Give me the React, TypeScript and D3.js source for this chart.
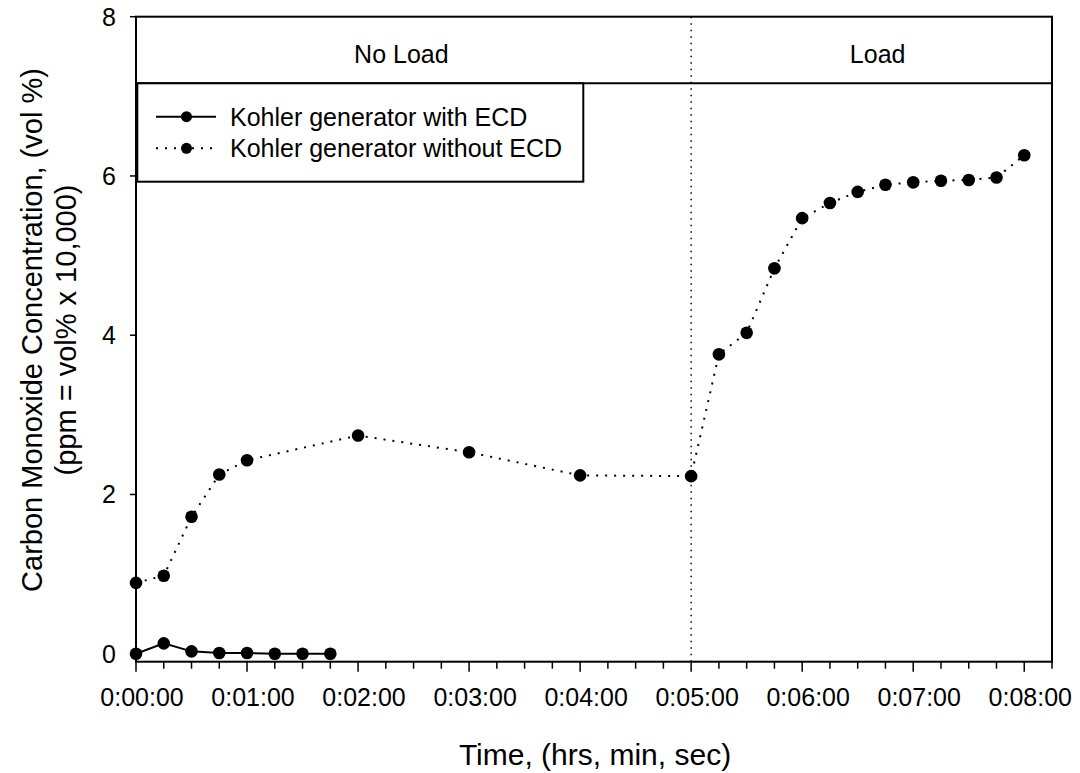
import React from "react";
import * as d3 from "d3";

const withEcdTimes = [0, 0.25, 0.5, 0.75, 1.0, 1.25, 1.5, 1.75];
const withEcdValues = [0.0, 0.13, 0.03, 0.01, 0.01, 0.0, 0.0, 0.0];

const withoutEcdTimes = [0, 0.25, 0.5, 0.75, 1.0, 2.0, 3.0, 4.0, 5.0, 5.25, 5.5, 5.75, 6.0, 6.25, 6.5, 6.75, 7.0, 7.25, 7.5, 7.75, 8.0];
const withoutEcdValues = [0.89, 0.98, 1.72, 2.25, 2.43, 2.74, 2.53, 2.24, 2.23, 3.76, 4.03, 4.84, 5.47, 5.66, 5.8, 5.89, 5.92, 5.94, 5.95, 5.98, 6.26];

const xMajorTicks = [0, 1, 2, 3, 4, 5, 6, 7, 8];
const xTickLabels = ["0:00:00", "0:01:00", "0:02:00", "0:03:00", "0:04:00", "0:05:00", "0:06:00", "0:07:00", "0:08:00"];
const yTicks = [0, 2, 4, 6, 8];
const phaseLabels = ["No Load", "Load"];
const phaseLabelTimes = [2.39, 6.68];
const phaseBoundary = 5;
const legendLabels = ["Kohler generator with ECD", "Kohler generator without ECD"];

export default function App() {
  const W = 1080, H = 773;
  const left = 136, right = 1052, top = 16.7, bottom = 661.7;
  const x = d3.scaleLinear().domain([0, 8.25]).range([left, right]);
  const y = d3.scaleLinear().domain([-0.1, 8]).range([bottom, top]);
  const font = "Arial, 'Liberation Sans', Helvetica, sans-serif";
  const minorTicks = d3.range(0, 8.26, 0.25);
  const line = d3.line<[number, number]>().x(d => x(d[0])).y(d => y(d[1]));
  const s1 = withEcdTimes.map((t, i) => [t, withEcdValues[i]] as [number, number]);
  const s2 = withoutEcdTimes.map((t, i) => [t, withoutEcdValues[i]] as [number, number]);
  const bandBottom = 83.3;
  const legX = left + 1.3, legY = bandBottom, legW = 446, legH = 98.4;

  return (
    <svg width={W} height={H} style={{ position: "absolute", left: 0, top: 0, background: "#fff" }} fontFamily={font}>
      <rect x={0} y={0} width={W} height={H} fill="#fff" />
      {/* phase boundary */}
      <line x1={x(phaseBoundary)} x2={x(phaseBoundary)} y1={top} y2={bottom} stroke="#000" strokeWidth={1.5} strokeDasharray="1.5,5" />
      {/* band */}
      <line x1={left} x2={right} y1={bandBottom} y2={bandBottom} stroke="#000" strokeWidth={2} />
      {phaseLabels.map((l, i) => (
        <text key={l} x={x(phaseLabelTimes[i])} y={62.5} textAnchor="middle" fontSize={25} fill="#000">{l}</text>
      ))}
      {/* series lines */}
      <path d={line(s2) || ""} fill="none" stroke="#000" strokeWidth={2} strokeDasharray="2,7" />
      <path d={line(s1) || ""} fill="none" stroke="#000" strokeWidth={2} />
      {s2.map((d, i) => <circle key={"b" + i} cx={x(d[0])} cy={y(d[1])} r={6.3} fill="#000" />)}
      {s1.map((d, i) => <circle key={"a" + i} cx={x(d[0])} cy={y(d[1])} r={6.3} fill="#000" />)}
      {/* frame */}
      <rect x={left} y={top} width={right - left} height={bottom - top} fill="none" stroke="#000" strokeWidth={2} />
      {/* legend */}
      <rect x={legX} y={legY} width={legW} height={legH} fill="#fff" stroke="#000" strokeWidth={2} />
      <line x1={156} x2={216} y1={116.7} y2={116.7} stroke="#000" strokeWidth={2} />
      <circle cx={186.5} cy={116.7} r={5.5} fill="#000" />
      <line x1={156} x2={216} y1={148.3} y2={148.3} stroke="#000" strokeWidth={2} strokeDasharray="2,7" />
      <circle cx={186.5} cy={148.3} r={5.5} fill="#000" />
      {legendLabels.map((l, i) => (
        <text key={l} x={230} y={125.5 + i * 31.6} fontSize={25} fill="#000">{l}</text>
      ))}
      {/* x ticks */}
      {minorTicks.map((t, i) => (
        <line key={"m" + i} x1={x(t)} x2={x(t)} y1={bottom} y2={bottom + (i % 4 === 0 ? 10 : 7)} stroke="#000" strokeWidth={1.5} />
      ))}
      {xMajorTicks.map((t, i) => (
        <text key={"xl" + i} x={x(t) + 6} y={706} textAnchor="middle" fontSize={25} fill="#000">{xTickLabels[i]}</text>
      ))}
      {/* y ticks */}
      {yTicks.map(t => (
        <g key={"y" + t}>
          <line x1={left - 6} x2={left} y1={y(t)} y2={y(t)} stroke="#000" strokeWidth={1.5} />
          <text x={116} y={y(t) + 9} textAnchor="end" fontSize={25} fill="#000">{t}</text>
        </g>
      ))}
      {/* axis titles */}
      <text x={595} y={765} textAnchor="middle" fontSize={30} fill="#000">Time, (hrs, min, sec)</text>
      <g transform={`translate(42, 330) rotate(-90)`}>
        <text x={0} y={0} textAnchor="middle" fontSize={29} fill="#000">Carbon Monoxide Concentration, (vol %)</text>
        <text x={0} y={34} textAnchor="middle" fontSize={29} fill="#000">(ppm = vol% x 10,000)</text>
      </g>
    </svg>
  );
}
